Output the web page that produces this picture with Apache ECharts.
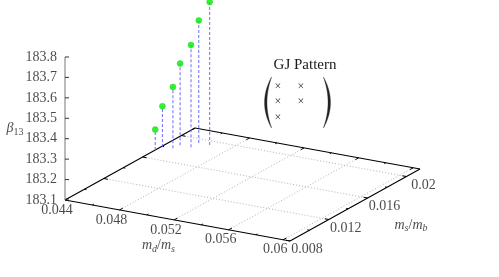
<!DOCTYPE html>
<html><head><meta charset="utf-8">
<script src="https://cdn.jsdelivr.net/npm/echarts@6/dist/echarts.min.js"></script>
<style>html,body{margin:0;padding:0;background:#fff}#c{width:499px;height:277px}</style>
</head><body><div id="c"></div>
<script>
// ---- data ----
const mdValues = [0.0440, 0.0441, 0.0448, 0.0449, 0.0457, 0.0457, 0.0465];
const msValues = [0.0173, 0.0179, 0.0180, 0.0186, 0.0186, 0.0194, 0.0194];
const beta13Values = [183.2, 183.3, 183.4, 183.5, 183.6, 183.7, 183.8];
const mdTicks = [0.044, 0.048, 0.052, 0.056, 0.060];
const mdTickLabels = ['0.044', '0.048', '0.052', '0.056', '0.06'];
const mdMinorTicks = [0.046, 0.050, 0.054, 0.058];
const msTicks = [0.008, 0.012, 0.016, 0.020];
const msTickLabels = ['0.008', '0.012', '0.016', '0.02'];
const msMinorTicks = [0.010, 0.014, 0.018];
const zTicks = [183.1, 183.2, 183.3, 183.4, 183.5, 183.6, 183.7, 183.8];
const zTickLabels = ['183.1', '183.2', '183.3', '183.4', '183.5', '183.6', '183.7', '183.8'];
const mdRange = [0.044, 0.0605];
const msRange = [0.008, 0.0214];
const zBase = 183.1;

// ---- view (orthographic projection of the 3D box) ----
const view = {origin: [65, 200], mdVec: [225, 41], msVec: [130, -72], zScale: 204.3};
function proj(md, ms, z) {
  const a = (md - mdRange[0]) / (mdRange[1] - mdRange[0]);
  const b = (ms - msRange[0]) / (msRange[1] - msRange[0]);
  return [view.origin[0] + a * view.mdVec[0] + b * view.msVec[0],
          view.origin[1] + a * view.mdVec[1] + b * view.msVec[1] - (z - zBase) * view.zScale];
}
const FONT = 'Liberation Serif';
const seg = (p, q) => [p[0], p[1], q[0], q[1]];
const msSpan = msRange[1] - msRange[0], mdSpan = mdRange[1] - mdRange[0];

// border
const border = [
  seg(proj(mdRange[0], msRange[0], zBase), proj(mdRange[1], msRange[0], zBase)),
  seg(proj(mdRange[1], msRange[0], zBase), proj(mdRange[1], msRange[1], zBase)),
  seg(proj(mdRange[1], msRange[1], zBase), proj(mdRange[0], msRange[1], zBase)),
  seg(proj(mdRange[0], msRange[1], zBase), proj(mdRange[0], msRange[0], zBase))
];
// ticks
const ticks = [];
function mdTick(v, f) {
  ticks.push(seg(proj(v, msRange[0], zBase), proj(v, msRange[0] + f * msSpan, zBase)));
  ticks.push(seg(proj(v, msRange[1], zBase), proj(v, msRange[1] - f * msSpan, zBase)));
}
function msTick(v, f) {
  ticks.push(seg(proj(mdRange[1], v, zBase), proj(mdRange[1] - f * mdSpan, v, zBase)));
  ticks.push(seg(proj(mdRange[0], v, zBase), proj(mdRange[0] + f * mdSpan, v, zBase)));
}
mdTicks.forEach(v => mdTick(v, 0.025));
mdMinorTicks.forEach(v => mdTick(v, 0.0125));
msTicks.forEach(v => msTick(v, 0.018));
msMinorTicks.forEach(v => msTick(v, 0.009));
// grid
const grid = [];
mdTicks.filter(v => v > mdRange[0]).forEach(v =>
  grid.push(seg(proj(v, msRange[0], zBase), proj(v, msRange[1], zBase))));
msTicks.filter(v => v > msRange[0]).forEach(v =>
  grid.push(seg(proj(mdRange[0], v, zBase), proj(mdRange[1], v, zBase))));
// z axis
const zTop = zTicks[zTicks.length - 1];
const zAxisLine = [seg(proj(mdRange[0], msRange[0], zBase), proj(mdRange[0], msRange[0], zTop))];
const zTickSegs = zTicks.map(z => {
  const p = proj(mdRange[0], msRange[0], z);
  return seg(p, [p[0] + 4, p[1]]);
});
// stems + points
const stems = mdValues.map((md, i) =>
  seg(proj(md, msValues[i], zBase), proj(md, msValues[i], beta13Values[i])));
const points = mdValues.map((md, i) => proj(md, msValues[i], beta13Values[i]));

// labels
const mdLab = mdTicks.map((v, i) => { const p = proj(v, msRange[0], zBase); return [p[0] - 8, p[1] + 10, mdTickLabels[i]]; });
const msLab = msTicks.map((v, i) => { const p = proj(mdRange[1], v, zBase); return [p[0] + 17, p[1] + 8.5, msTickLabels[i]]; });
const zLab = zTicks.map((v, i) => { const p = proj(mdRange[0], msRange[0], v); return [p[0] - 8, p[1], zTickLabels[i]]; });
const mdTitleP = proj((mdRange[0] + mdRange[1]) / 2, msRange[0], zBase);
const msTitleP = proj(mdRange[1], (msRange[0] + msRange[1]) / 2, zBase);
const zTitleP = proj(mdRange[0], msRange[0], 183.45);

const TXT = '#1a1a1a';
const rich = {
  i: {fontFamily: FONT, fontStyle: 'italic', fontSize: 14, color: TXT},
  n: {fontFamily: FONT, fontSize: 14, color: TXT},
  s: {fontFamily: FONT, fontStyle: 'italic', fontSize: 10, color: TXT, padding: [7, 0, 0, 0]},
  d: {fontFamily: FONT, fontSize: 10, color: TXT, padding: [7, 0, 0, 0]}
};
function textSeries(data, align, fmt) {
  return {
    type: 'scatter', symbolSize: 0, silent: true, data: data,
    label: {show: true, position: 'inside', align: align, verticalAlign: 'middle',
      fontFamily: FONT, fontSize: 14, color: TXT, rich: rich,
      formatter: fmt || (p => p.data[2])}
  };
}
function segSeries(data, style, z) {
  return {
    type: 'custom', silent: true, z: z || 2, data: data,
    renderItem: (params, api) => {
      const p = api.coord([api.value(0), api.value(1)]);
      const q = api.coord([api.value(2), api.value(3)]);
      return {type: 'line', shape: {x1: p[0], y1: p[1], x2: q[0], y2: q[1]},
        style: Object.assign({fill: null}, style)};
    }
  };
}
// big matrix parenthesis as a crescent polygon
function paren(xEnd, xOuter, xInner, y0, y1) {
  const pts = [], n = 24;
  const cO = 2 * xOuter - xEnd, cI = 2 * xInner - xEnd;
  for (let k = 0; k <= n; k++) {
    const t = k / n;
    pts.push([(1 - t) * (1 - t) * xEnd + 2 * t * (1 - t) * cO + t * t * xEnd, y0 + t * (y1 - y0)]);
  }
  for (let k = n; k >= 0; k--) {
    const t = k / n;
    pts.push([(1 - t) * (1 - t) * xEnd + 2 * t * (1 - t) * cI + t * t * xEnd, y0 + 0.5 + t * (y1 - y0 - 1)]);
  }
  return pts;
}
const cross = (x, y) => ({type: 'text', x: x, y: y,
  style: {text: '×', font: '12px "Liberation Serif"', fill: '#333', align: 'center', verticalAlign: 'middle'}});

const chart = echarts.init(document.getElementById('c'), null, {renderer: 'canvas'});
chart.setOption({
  animation: false,
  backgroundColor: '#fff',
  grid: {left: 0, right: 0, top: 0, bottom: 0},
  xAxis: {type: 'value', min: 0, max: 499, show: false},
  yAxis: {type: 'value', min: 0, max: 277, inverse: true, show: false},
  series: [
    segSeries(grid, {stroke: '#a0a0a0', lineWidth: 0.8, lineDash: [1, 2]}, 1),
    segSeries(border, {stroke: '#000', lineWidth: 1.1}, 3),
    segSeries(ticks, {stroke: '#000', lineWidth: 1}, 3),
    segSeries(zAxisLine, {stroke: '#777', lineWidth: 1}, 3),
    segSeries(zTickSegs, {stroke: '#333', lineWidth: 1}, 3),
    segSeries(stems, {stroke: '#6a6aff', lineWidth: 1, lineDash: [3, 2]}, 4),
    {type: 'scatter', silent: true, z: 5, symbol: 'circle', symbolSize: 6, data: points,
      itemStyle: {color: '#00ee00', borderColor: '#22cc22', borderWidth: 0.5}},
    textSeries(mdLab, 'center'),
    textSeries(msLab, 'center'),
    textSeries(zLab, 'right'),
    textSeries([[mdTitleP[0] - 19, mdTitleP[1] + 25, '']], 'center', () => '{i|m}{s|d}{n|/}{i|m}{s|s}'),
    textSeries([[msTitleP[0] + 56, msTitleP[1] + 20, '']], 'center', () => '{i|m}{s|s}{n|/}{i|m}{s|b}'),
    textSeries([[zTitleP[0] - 50, zTitleP[1] + 0, '']], 'center', () => '{i|β}{d|13}')
  ],
  graphic: [
    {type: 'text', x: 305, y: 65, style: {text: 'GJ Pattern', font: '15px "Liberation Serif"', fill: TXT, align: 'center', verticalAlign: 'middle'}},
    {type: 'polygon', shape: {points: paren(271.5, 264.5, 267, 77, 128)}, style: {fill: '#222', stroke: '#222', lineWidth: 0.3}},
    {type: 'polygon', shape: {points: paren(323.5, 330.5, 328, 77, 128)}, style: {fill: '#222', stroke: '#222', lineWidth: 0.3}},
    cross(278, 87), cross(301, 87), cross(278, 102), cross(301, 102), cross(278, 118)
  ]
});
</script></body></html>
